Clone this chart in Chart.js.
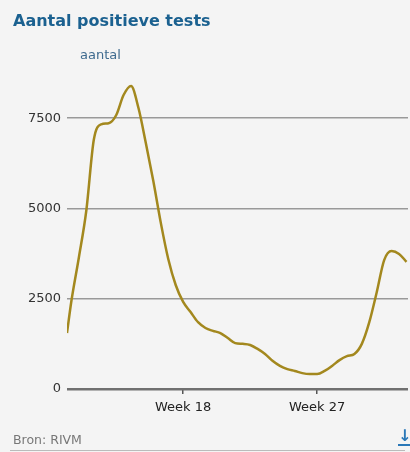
<!DOCTYPE html>
<html>
<head>
<meta charset="utf-8">
<script src="https://cdn.jsdelivr.net/npm/chart.js@4"></script>
<style>
  html, body { margin:0; padding:0; background:#f4f4f4; }
  body { width:410px; height:452px; position:relative; overflow:hidden; font-family:"DejaVu Sans", sans-serif; }
  #wrap { position:absolute; left:0; top:0; width:410px; height:452px; }
  .txt { position:absolute; white-space:nowrap; }
  #title { left:13px; top:11px; font-size:16px; font-weight:bold; color:#1b6190; }
  #unit { left:80px; top:47px; font-size:13px; color:#3f6b8f; }
  #src { left:13px; top:432px; font-size:12.5px; color:#777; }
  #rule { position:absolute; left:10px; top:450px; width:395px; height:1px; background:#bbb; }
  #dl { left:398px; top:428px; font-size:16px; font-weight:bold; color:#2a78b8; border-bottom:2px solid #2a78b8; line-height:16px; }
</style>
</head>
<body>
<div id="wrap"><canvas id="chart" width="410" height="452"></canvas></div>
<div class="txt" id="title">Aantal positieve tests</div>
<div class="txt" id="unit">aantal</div>
<div class="txt" id="src">Bron: RIVM</div>
<div id="rule"></div>
<div class="txt" id="dl">↓</div>
<script>
// week numbers (half-week steps) and number of positive tests
const weeks = [10.2, 10.5, 11, 11.5, 12, 12.5, 13, 13.5, 14, 14.5, 15, 15.5, 16, 16.5, 17, 17.5,
  18, 18.5, 19, 19.5, 20, 20.5, 21, 21.5, 22, 22.5, 23, 23.5, 24, 24.5, 25, 25.5,
  26, 26.5, 27, 27.5, 28, 28.5, 29, 29.5, 30, 30.5, 31, 31.5, 32, 32.5, 33];
const positives = [1550, 2450, 3650, 4950, 6900, 7330, 7360, 7580, 8140, 8390, 7780, 6800, 5750, 4600, 3600, 2880,
  2410, 2130, 1850, 1690, 1610, 1550, 1410, 1270, 1250, 1220, 1110, 970, 780, 640, 550, 500,
  440, 415, 415, 500, 640, 800, 910, 970, 1250, 1850, 2680, 3570, 3820, 3740, 3520];
const yTicks = [0, 2500, 5000, 7500];
const xTicks = [18, 27];

const points = weeks.map((w, i) => ({ x: w, y: positives[i] }));

new Chart(document.getElementById("chart"), {
  type: "line",
  data: {
    datasets: [{
      label: "aantal",
      data: points,
      borderColor: "#a3881e",
      borderWidth: 2.5,
      pointRadius: 0,
      cubicInterpolationMode: "monotone",
      fill: false
    }]
  },
  options: {
    responsive: false,
    animation: false,
    events: [],
    layout: { padding: { top: 64, right: 2, bottom: 23, left: 0 } },
    plugins: { legend: { display: false }, tooltip: { enabled: false } },
    scales: {
      x: {
        type: "linear",
        min: 10.2,
        max: 33.1,
        afterBuildTicks: axis => { axis.ticks = xTicks.map(v => ({ value: v })); },
        afterFit: axis => { axis.height = 40; },
        border: { display: false },
        grid: { drawOnChartArea: false, drawTicks: true, tickLength: 5, color: "#555", lineWidth: 1.5 },
        ticks: {
          padding: 6,
          maxRotation: 0,
          color: "#222",
          font: { family: "DejaVu Sans", size: 13 },
          callback: v => "Week " + v
        }
      },
      y: {
        min: 0,
        max: 9000,
        afterBuildTicks: axis => { axis.ticks = yTicks.map(v => ({ value: v })); },
        afterFit: axis => { axis.width = 67; },
        border: { display: false },
        grid: {
          drawTicks: false,
          color: ctx => ctx.tick && ctx.tick.value === 0 ? "#707070" : "#999",
          lineWidth: ctx => ctx.tick && ctx.tick.value === 0 ? 2.5 : 1.5
        },
        ticks: {
          padding: 6,
          color: "#333",
          font: { family: "DejaVu Sans", size: 13 },
          callback: v => String(v)
        }
      }
    }
  }
});
</script>
</body>
</html>
